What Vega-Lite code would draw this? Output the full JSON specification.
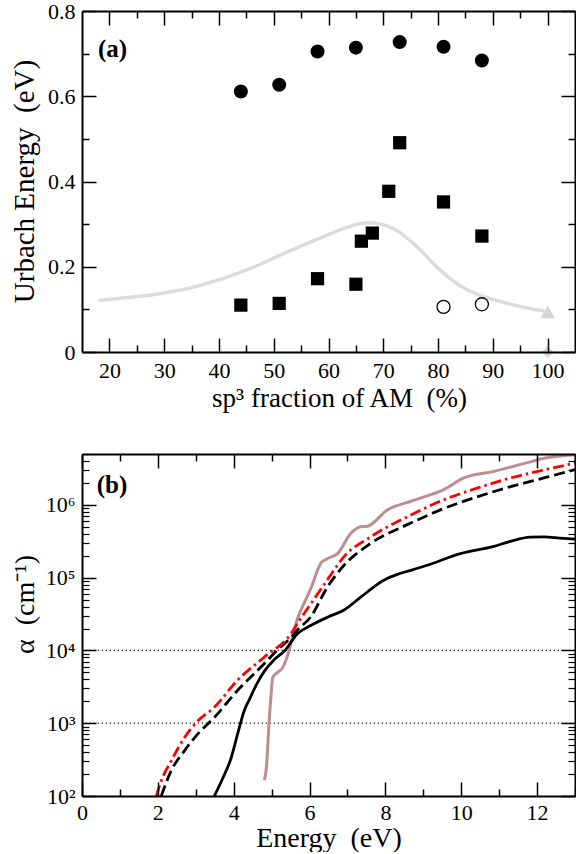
{
  "$schema": "https://vega.github.io/schema/vega-lite/v6.json",
  "padding": {"left": 10, "top": 0, "right": 0, "bottom": 0},
  "bounds": "flush",
  "spacing": 102,
  "datasets": {
    "curveA": [
      {"x": 18, "y": 0.121}, {"x": 22, "y": 0.126}, {"x": 28.2, "y": 0.135}, {"x": 34.3, "y": 0.149},
      {"x": 40.4, "y": 0.171}, {"x": 46.5, "y": 0.2}, {"x": 52.5, "y": 0.235}, {"x": 58.6, "y": 0.268},
      {"x": 63.5, "y": 0.293}, {"x": 67.1, "y": 0.303}, {"x": 69.5, "y": 0.3}, {"x": 72.6, "y": 0.284},
      {"x": 76.3, "y": 0.245}, {"x": 79.9, "y": 0.198}, {"x": 83.6, "y": 0.159}, {"x": 87.2, "y": 0.135},
      {"x": 92.1, "y": 0.116}, {"x": 96.3, "y": 0.103}, {"x": 99.4, "y": 0.096}
    ],
    "ptsA": [
      {"x": 44, "y": 0.611, "kind": "fc"}, {"x": 51, "y": 0.627, "kind": "fc"}, {"x": 58, "y": 0.705, "kind": "fc"},
      {"x": 65, "y": 0.714, "kind": "fc"}, {"x": 73, "y": 0.727, "kind": "fc"}, {"x": 81, "y": 0.716, "kind": "fc"},
      {"x": 88, "y": 0.684, "kind": "fc"},
      {"x": 44, "y": 0.11, "kind": "sq"}, {"x": 51, "y": 0.114, "kind": "sq"}, {"x": 58, "y": 0.172, "kind": "sq"},
      {"x": 65, "y": 0.159, "kind": "sq"}, {"x": 66, "y": 0.26, "kind": "sq"}, {"x": 68, "y": 0.279, "kind": "sq"},
      {"x": 71, "y": 0.377, "kind": "sq"}, {"x": 73, "y": 0.491, "kind": "sq"}, {"x": 81, "y": 0.352, "kind": "sq"},
      {"x": 88, "y": 0.272, "kind": "sq"},
      {"x": 81, "y": 0.106, "kind": "oc"}, {"x": 88, "y": 0.112, "kind": "oc"},
      {"x": 100, "y": 0.094, "kind": "tri"},
      {"x": 100, "y": 0.0, "kind": "dia"}
    ],
    "labA": [{"x": 17.9, "y": 0.692, "t": "(a)"}],
    "gridB": [{"y": 1000}, {"y": 10000}],
    "labB": [{"x": 0.39, "y": 1470000, "t": "(b)"}],
    "linesB": [
      {"s": "solid", "x": 3.49, "y": 100}, {"s": "solid", "x": 3.7, "y": 170}, {"s": "solid", "x": 3.93, "y": 330},
      {"s": "solid", "x": 4.1, "y": 700}, {"s": "solid", "x": 4.28, "y": 1500}, {"s": "solid", "x": 4.41, "y": 2100},
      {"s": "solid", "x": 4.6, "y": 3400}, {"s": "solid", "x": 4.81, "y": 5200}, {"s": "solid", "x": 5.05, "y": 7300},
      {"s": "solid", "x": 5.35, "y": 10000}, {"s": "solid", "x": 5.68, "y": 17000}, {"s": "solid", "x": 6.03, "y": 22000},
      {"s": "solid", "x": 6.5, "y": 29000}, {"s": "solid", "x": 6.91, "y": 36000}, {"s": "solid", "x": 7.35, "y": 54000},
      {"s": "solid", "x": 7.97, "y": 93000}, {"s": "solid", "x": 8.3, "y": 110000}, {"s": "solid", "x": 8.67, "y": 126000},
      {"s": "solid", "x": 9.1, "y": 148000}, {"s": "solid", "x": 9.98, "y": 214000}, {"s": "solid", "x": 10.86, "y": 269000},
      {"s": "solid", "x": 11.3, "y": 316000}, {"s": "solid", "x": 11.82, "y": 360000}, {"s": "solid", "x": 12.18, "y": 363000},
      {"s": "solid", "x": 12.6, "y": 350000}, {"s": "solid", "x": 13, "y": 338000},
      {"s": "dash", "x": 2.09, "y": 100}, {"s": "dash", "x": 2.35, "y": 221}, {"s": "dash", "x": 2.7, "y": 417},
      {"s": "dash", "x": 3.05, "y": 708}, {"s": "dash", "x": 3.49, "y": 1202}, {"s": "dash", "x": 4.1, "y": 2818},
      {"s": "dash", "x": 4.81, "y": 6607}, {"s": "dash", "x": 5.1, "y": 9500}, {"s": "dash", "x": 5.51, "y": 15136},
      {"s": "dash", "x": 5.68, "y": 19055}, {"s": "dash", "x": 6.03, "y": 28840}, {"s": "dash", "x": 6.47, "y": 74131},
      {"s": "dash", "x": 6.91, "y": 147911}, {"s": "dash", "x": 7.61, "y": 295121}, {"s": "dash", "x": 8.67, "y": 562341},
      {"s": "dash", "x": 9.54, "y": 891251}, {"s": "dash", "x": 10.42, "y": 1288250}, {"s": "dash", "x": 11.3, "y": 1778279},
      {"s": "dash", "x": 12.18, "y": 2344229}, {"s": "dash", "x": 13, "y": 3050000},
      {"s": "red", "x": 1.96, "y": 100}, {"s": "red", "x": 2.09, "y": 162}, {"s": "red", "x": 2.35, "y": 302},
      {"s": "red", "x": 2.7, "y": 631}, {"s": "red", "x": 3.05, "y": 1072}, {"s": "red", "x": 3.49, "y": 1660},
      {"s": "red", "x": 4.1, "y": 3890}, {"s": "red", "x": 4.81, "y": 8128}, {"s": "red", "x": 5.51, "y": 16982},
      {"s": "red", "x": 5.68, "y": 23442}, {"s": "red", "x": 6.1, "y": 49000}, {"s": "red", "x": 6.47, "y": 93325},
      {"s": "red", "x": 6.91, "y": 194984}, {"s": "red", "x": 7.61, "y": 363078}, {"s": "red", "x": 8.67, "y": 724436},
      {"s": "red", "x": 9.54, "y": 1174898}, {"s": "red", "x": 10.42, "y": 1698244}, {"s": "red", "x": 11.3, "y": 2344229},
      {"s": "red", "x": 12.18, "y": 3019952}, {"s": "red", "x": 13, "y": 3750000},
      {"s": "brown", "x": 4.81, "y": 165}, {"s": "brown", "x": 4.87, "y": 275}, {"s": "brown", "x": 4.92, "y": 794},
      {"s": "brown", "x": 4.98, "y": 2240}, {"s": "brown", "x": 5.03, "y": 4270}, {"s": "brown", "x": 5.16, "y": 5000},
      {"s": "brown", "x": 5.3, "y": 5900}, {"s": "brown", "x": 5.42, "y": 8500}, {"s": "brown", "x": 5.55, "y": 15000},
      {"s": "brown", "x": 5.68, "y": 27000}, {"s": "brown", "x": 5.86, "y": 45000}, {"s": "brown", "x": 6.03, "y": 70000},
      {"s": "brown", "x": 6.3, "y": 158000}, {"s": "brown", "x": 6.47, "y": 182000}, {"s": "brown", "x": 6.74, "y": 214000},
      {"s": "brown", "x": 7.09, "y": 407000}, {"s": "brown", "x": 7.35, "y": 501000}, {"s": "brown", "x": 7.53, "y": 510000},
      {"s": "brown", "x": 8.05, "y": 851000}, {"s": "brown", "x": 8.67, "y": 1122000}, {"s": "brown", "x": 9.02, "y": 1288000},
      {"s": "brown", "x": 9.54, "y": 1622000}, {"s": "brown", "x": 10.07, "y": 2344000}, {"s": "brown", "x": 10.86, "y": 2884000},
      {"s": "brown", "x": 11.74, "y": 3802000}, {"s": "brown", "x": 12.18, "y": 4365000}, {"s": "brown", "x": 13, "y": 4900000}
    ]
  },
  "vconcat": [
    {
      "width": 493,
      "height": 341,
      "resolve": {"axis": {"x": "independent", "y": "independent"}},
      "layer": [
        {
          "data": {"name": "curveA"},
          "mark": {"type": "line", "color": "#dcdcdc", "strokeWidth": 3.5, "interpolate": "monotone"},
          "encoding": {
            "x": {"field": "x", "type": "quantitative", "scale": {"domain": [15, 105], "nice": false, "zero": false},
              "axis": {"orient": "top", "values": [20,30,40,50,60,70,80,90,100], "grid": false, "zindex": 1, "tickSize": -14, "tickColor": "black", "tickWidth": 1.5, "domainColor": "black", "domainWidth": 2, "labels": false, "title": null}},
            "y": {"field": "y", "type": "quantitative", "scale": {"domain": [0, 0.8], "nice": false, "zero": false},
              "axis": {"orient": "right", "values": [0,0.2,0.4,0.6,0.8], "grid": false, "zindex": 1, "tickSize": -14, "tickColor": "black", "tickWidth": 1.5, "domainColor": "black", "domainWidth": 2, "labels": false, "title": null}}
          }
        },
        {
          "data": {"name": "ptsA"},
          "transform": [{"filter": "datum.kind === 'fc'"}],
          "mark": {"type": "point", "shape": "circle", "filled": true, "color": "black", "opacity": 1, "size": 196},
          "encoding": {
            "x": {"field": "x", "type": "quantitative", "scale": {"domain": [15, 105], "nice": false, "zero": false},
              "axis": {"orient": "bottom", "values": [20,30,40,50,60,70,80,90,100], "grid": false, "zindex": 1, "tickSize": -14, "tickColor": "black", "tickWidth": 1.5, "domainColor": "black", "domainWidth": 2,
                "labelFont": "Liberation Serif", "labelFontSize": 22, "labelColor": "black",
                "labelPadding": 22, "labelBaseline": "top",
                "title": "sp³ fraction of AM\u00a0 (%)", "titleFont": "Liberation Serif", "titleFontWeight": "normal", "titleColor": "black",
                "titleX": 257, "titleY": 54, "titleBaseline": "alphabetic", "titleFontSize": 27}},
            "y": {"field": "y", "type": "quantitative", "scale": {"domain": [0, 0.8], "nice": false, "zero": false},
              "axis": {"orient": "left", "values": [0,0.2,0.4,0.6,0.8], "grid": false, "zindex": 1, "tickSize": -14, "tickColor": "black", "tickWidth": 1.5, "domainColor": "black", "domainWidth": 2,
                "labelFont": "Liberation Serif", "labelFontSize": 22, "labelColor": "black",
                "labelExpr": "datum.value === 0 ? '0' : format(datum.value, '.1f')",
                "labelPadding": 21,
                "title": "Urbach Energy\u00a0 (eV)", "titleFont": "Liberation Serif", "titleFontWeight": "normal", "titleColor": "black",
                "titleX": -49, "titleY": 170, "titleBaseline": "alphabetic", "titleFontSize": 29}}
          }
        },
        {
          "data": {"name": "ptsA"},
          "transform": [{"filter": "datum.kind === 'sq'"}],
          "mark": {"type": "point", "shape": "square", "filled": true, "color": "black", "opacity": 1, "size": 175},
          "encoding": {
            "x": {"field": "x", "type": "quantitative", "scale": {"domain": [15, 105], "nice": false, "zero": false},
              "axis": {"orient": "bottom", "values": [25,35,45,55,65,75,85,95], "grid": false, "zindex": 1, "tickSize": -7, "tickColor": "black", "tickWidth": 1.5, "labels": false, "domain": false, "title": null}},
            "y": {"field": "y", "type": "quantitative", "scale": {"domain": [0, 0.8], "nice": false, "zero": false},
              "axis": {"orient": "left", "values": [0.1,0.3,0.5,0.7], "grid": false, "zindex": 1, "tickSize": -7, "tickColor": "black", "tickWidth": 1.5, "labels": false, "domain": false, "title": null}}
          }
        },
        {
          "data": {"name": "ptsA"},
          "transform": [{"filter": "datum.kind === 'oc'"}],
          "mark": {"type": "point", "shape": "circle", "filled": false, "fill": "white", "stroke": "black", "strokeWidth": 1.3, "opacity": 1, "size": 170},
          "encoding": {
            "x": {"field": "x", "type": "quantitative", "scale": {"domain": [15, 105], "nice": false, "zero": false},
              "axis": {"orient": "top", "values": [25,35,45,55,65,75,85,95], "grid": false, "zindex": 1, "tickSize": -7, "tickColor": "black", "tickWidth": 1.5, "labels": false, "domain": false, "title": null}},
            "y": {"field": "y", "type": "quantitative", "scale": {"domain": [0, 0.8], "nice": false, "zero": false},
              "axis": {"orient": "right", "values": [0.1,0.3,0.5,0.7], "grid": false, "zindex": 1, "tickSize": -7, "tickColor": "black", "tickWidth": 1.5, "labels": false, "domain": false, "title": null}}
          }
        },
        {
          "data": {"name": "ptsA"},
          "transform": [{"filter": "datum.kind === 'tri'"}],
          "mark": {"type": "point", "shape": "triangle-up", "filled": true, "color": "#d6d6d6", "opacity": 1, "size": 220},
          "encoding": {
            "x": {"field": "x", "type": "quantitative", "axis": null},
            "y": {"field": "y", "type": "quantitative", "axis": null}
          }
        },
        {
          "data": {"name": "ptsA"},
          "transform": [{"filter": "datum.kind === 'dia'"}],
          "mark": {"type": "point", "shape": "diamond", "filled": true, "color": "#d6d6d6", "opacity": 1, "size": 150},
          "encoding": {
            "x": {"field": "x", "type": "quantitative", "axis": null},
            "y": {"field": "y", "type": "quantitative", "axis": null}
          }
        },
        {
          "data": {"name": "labA"},
          "mark": {"type": "text", "font": "Liberation Serif", "fontSize": 25, "fontWeight": "bold", "align": "left", "baseline": "alphabetic", "color": "black"},
          "encoding": {
            "x": {"field": "x", "type": "quantitative", "axis": null},
            "y": {"field": "y", "type": "quantitative", "axis": null},
            "text": {"field": "t"}
          }
        }
      ]
    },
    {
      "width": 493,
      "height": 342,
      "resolve": {"axis": {"x": "independent", "y": "independent"}},
      "layer": [
        {
          "data": {"name": "gridB"},
          "mark": {"type": "rule", "color": "#222", "strokeWidth": 1.2, "strokeDash": [1.3, 2.7]},
          "encoding": {
            "y": {"field": "y", "type": "quantitative", "scale": {"type": "log", "domain": [100, 5000000], "nice": false}, "axis": null}
          }
        },
        {
          "data": {"name": "linesB"},
          "transform": [{"filter": "datum.s === 'brown'"}],
          "mark": {"type": "line", "color": "#bc8f8f", "strokeWidth": 3, "interpolate": "monotone", "clip": true},
          "encoding": {
            "x": {"field": "x", "type": "quantitative", "scale": {"domain": [0, 13], "nice": false, "zero": false},
              "axis": {"orient": "top", "values": [0,2,4,6,8,10,12], "grid": false, "zindex": 1, "tickSize": -14, "tickColor": "black", "tickWidth": 1.5, "domainColor": "black", "domainWidth": 2, "labels": false, "title": null}},
            "y": {"field": "y", "type": "quantitative", "scale": {"type": "log", "domain": [100, 5000000], "nice": false},
              "axis": {"orient": "right", "values": [100,1000,10000,100000,1000000], "grid": false, "zindex": 1, "tickSize": -14, "tickColor": "black", "tickWidth": 1.5, "domainColor": "black", "domainWidth": 2, "labels": false, "title": null}}
          }
        },
        {
          "data": {"name": "linesB"},
          "transform": [{"filter": "datum.s === 'solid'"}],
          "mark": {"type": "line", "color": "black", "strokeWidth": 2.8, "interpolate": "monotone", "clip": true},
          "encoding": {
            "x": {"field": "x", "type": "quantitative", "scale": {"domain": [0, 13], "nice": false, "zero": false},
              "axis": {"orient": "bottom", "values": [0,2,4,6,8,10,12], "grid": false, "zindex": 1, "tickSize": -14, "tickColor": "black", "tickWidth": 1.5, "domainColor": "black", "domainWidth": 2,
                "labelFont": "Liberation Serif", "labelFontSize": 22, "labelColor": "black", "labelFlush": false,
                "labelPadding": 20.5, "labelBaseline": "top",
                "title": "Energy\u00a0 (eV)", "titleFont": "Liberation Serif", "titleFontWeight": "normal", "titleColor": "black",
                "titleY": 50, "titleBaseline": "alphabetic", "titleFontSize": 28}},
            "y": {"field": "y", "type": "quantitative", "scale": {"type": "log", "domain": [100, 5000000], "nice": false},
              "axis": {"orient": "left", "values": [100,1000,10000,100000,1000000], "grid": false, "zindex": 1, "tickSize": -14, "tickColor": "black", "tickWidth": 1.5, "domainColor": "black", "domainWidth": 2,
                "labelFont": "Liberation Serif", "labelFontSize": 22, "labelColor": "black", "labelFlush": false,
                "labelExpr": "datum.value === 100 ? '10²' : datum.value === 1000 ? '10³' : datum.value === 10000 ? '10⁴' : datum.value === 100000 ? '10⁵' : '10⁶'",
                "labelPadding": 21,
                "title": "α\u00a0 (cm⁻¹)", "titleFont": "Liberation Serif", "titleFontWeight": "normal", "titleColor": "black",
                "titleX": -49, "titleY": 150, "titleBaseline": "alphabetic", "titleFontSize": 28}}
          }
        },
        {
          "data": {"name": "linesB"},
          "transform": [{"filter": "datum.s === 'dash'"}],
          "mark": {"type": "line", "color": "black", "strokeWidth": 2.8, "strokeDash": [11, 5], "interpolate": "monotone", "clip": true},
          "encoding": {
            "x": {"field": "x", "type": "quantitative", "scale": {"domain": [0, 13], "nice": false, "zero": false},
              "axis": {"orient": "bottom", "values": [1,3,5,7,9,11,13], "grid": false, "zindex": 1, "tickSize": -7, "tickColor": "black", "tickWidth": 1.5, "labels": false, "domain": false, "title": null}},
            "y": {"field": "y", "type": "quantitative", "scale": {"type": "log", "domain": [100, 5000000], "nice": false},
              "axis": {"orient": "left",
                "values": [200,300,400,500,600,700,800,900,2000,3000,4000,5000,6000,7000,8000,9000,20000,30000,40000,50000,60000,70000,80000,90000,200000,300000,400000,500000,600000,700000,800000,900000,2000000,3000000,4000000,5000000],
                "grid": false, "zindex": 1, "tickSize": -7, "tickColor": "black", "tickWidth": 1.2, "labels": false, "domain": false, "title": null}}
          }
        },
        {
          "data": {"name": "linesB"},
          "transform": [{"filter": "datum.s === 'red'"}],
          "mark": {"type": "line", "color": "#ff0000", "strokeWidth": 2.8, "strokeDash": [11, 4, 2.5, 4], "interpolate": "monotone", "clip": true},
          "encoding": {
            "x": {"field": "x", "type": "quantitative", "scale": {"domain": [0, 13], "nice": false, "zero": false},
              "axis": {"orient": "top", "values": [1,3,5,7,9,11,13], "grid": false, "zindex": 1, "tickSize": -7, "tickColor": "black", "tickWidth": 1.5, "labels": false, "domain": false, "title": null}},
            "y": {"field": "y", "type": "quantitative", "scale": {"type": "log", "domain": [100, 5000000], "nice": false},
              "axis": {"orient": "right",
                "values": [200,300,400,500,600,700,800,900,2000,3000,4000,5000,6000,7000,8000,9000,20000,30000,40000,50000,60000,70000,80000,90000,200000,300000,400000,500000,600000,700000,800000,900000,2000000,3000000,4000000,5000000],
                "grid": false, "zindex": 1, "tickSize": -7, "tickColor": "black", "tickWidth": 1.2, "labels": false, "domain": false, "title": null}}
          }
        },
        {
          "data": {"name": "labB"},
          "mark": {"type": "text", "font": "Liberation Serif", "fontSize": 25, "fontWeight": "bold", "align": "left", "baseline": "alphabetic", "color": "black"},
          "encoding": {
            "x": {"field": "x", "type": "quantitative", "axis": null},
            "y": {"field": "y", "type": "quantitative", "axis": null},
            "text": {"field": "t"}
          }
        }
      ]
    }
  ],
  "config": {
    "view": {"stroke": null}
  }
}
